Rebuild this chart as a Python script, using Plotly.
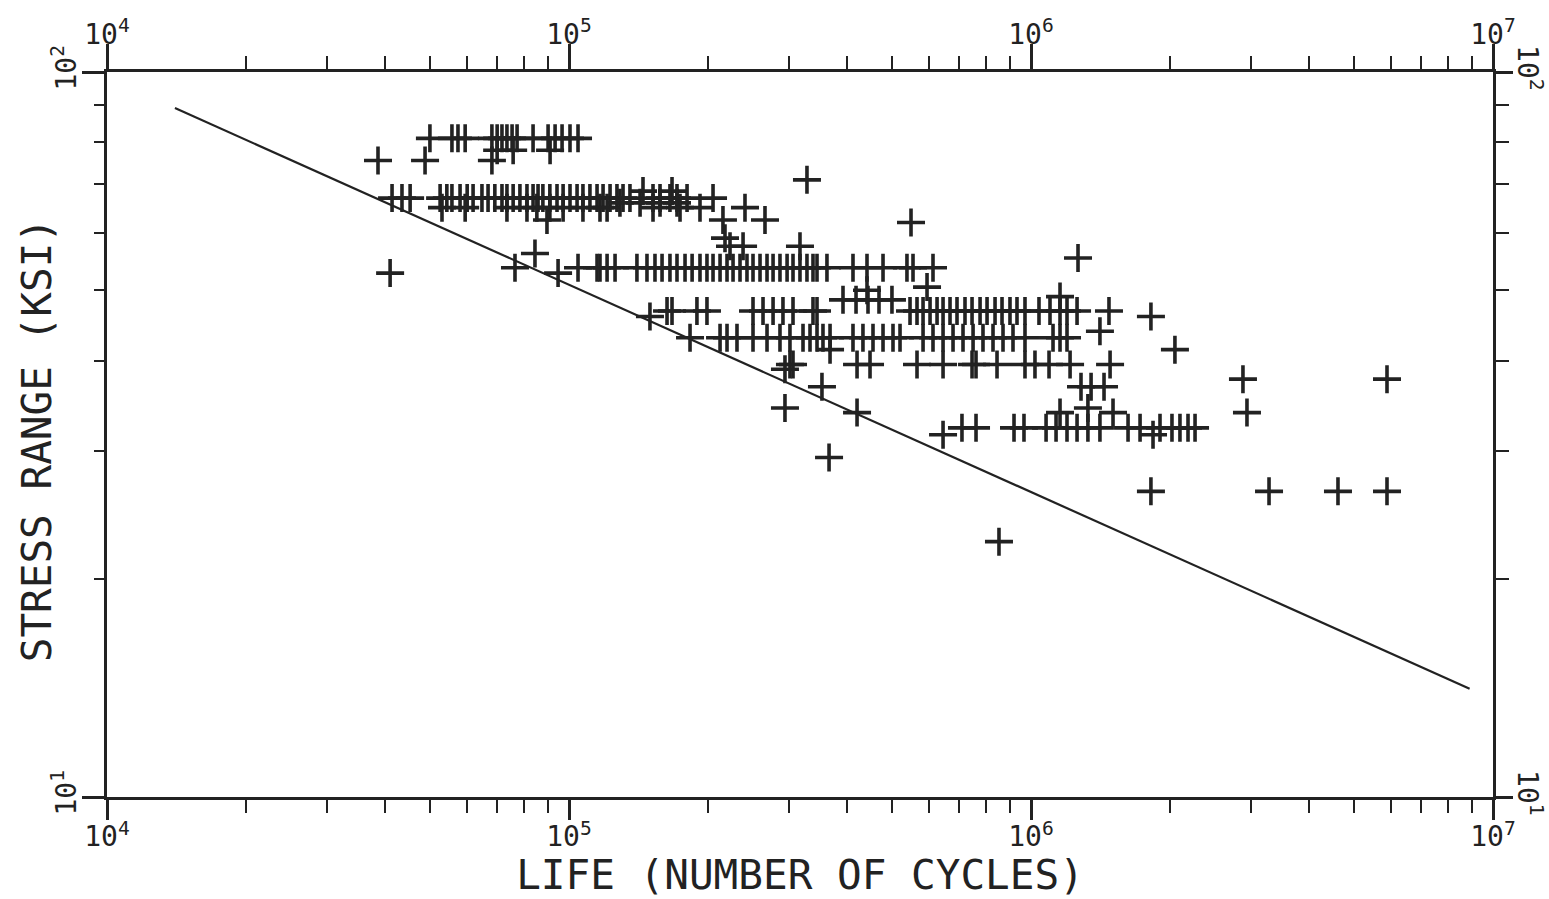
import plotly.graph_objects as go

# ---- Data: fatigue life N (cycles) at each stress range S (ksi) ----
s_81 = [50000, 55800, 57500, 59600, 68100, 69900, 71600, 73400, 75300, 77200,
        83600, 90100, 93300, 96600, 100500, 104600]
s_78 = [69900, 75700, 91000]
s_75_5 = [38600, 48800, 68100]
s_71 = [327400]
s_68_5 = [144600, 167100]
s_67 = [41400, 43500, 45300, 52600, 54400, 55800, 58100, 60200, 62000, 64800,
        66800, 69100, 71600, 73400, 75700, 78300, 81100, 83600, 85700, 87800,
        90900, 94200, 97100, 100500, 104100, 107200, 111000, 115000, 118500,
        122700, 127000, 130900, 135500, 152000, 157400, 165400, 171300, 180100,
        205000]
s_66 = [128900, 142500, 157400, 171300]
s_65 = [53100, 59600, 73400, 81100, 85200, 90900, 97100, 107200, 116700, 120900,
        152000, 173900, 192100, 240400]
s_62_5 = [89600, 215400, 265600]
s_62 = [549900]
s_59 = [217600]
s_57_5 = [223100, 238100, 316200]
s_56_2 = [84400]
s_55_4 = [1264000]
s_53_7 = [76400, 104600, 115000, 116700, 120900, 125800, 140300, 147500, 153500,
          159000, 165400, 171300, 178300, 184700, 192100, 198900, 205000, 212300,
          219800, 226500, 234500, 242800, 250200, 259100, 268300, 276500, 286200,
          296500, 305400, 316200, 327400, 337400, 344200, 361700, 411800, 441600,
          478300, 538900, 555400, 613600]
s_52_8 = [41000, 94700]
s_50_5 = [595600]
s_50 = [441600]
s_49 = [1155600]
s_48_5 = [391800, 418100, 443800, 468800, 500100]
s_46_8 = [163000, 167100, 189200, 198900, 250200, 263000, 276500, 290500, 305400,
          337400, 344200, 547200, 566600, 583900, 604600, 626100, 645100, 667900,
          691600, 719700, 745400, 775800, 803300, 835900, 865500, 900600, 932600,
          970500, 1040600, 1099300, 1155600, 1196600, 1258000, 1475000]
s_46 = [149700, 1818000]
s_43_9 = [1410000]
s_43 = [182800, 212300, 219800, 231000, 250200, 268300, 286200, 300800, 321000,
        332400, 344200, 354600, 367300, 411800, 432800, 455000, 478300, 502700,
        520600, 583900, 613600, 645100, 678000, 712600, 749200, 787200, 827500,
        869800, 914200, 970500, 1116000, 1155600, 1196600]
s_41_4 = [367300, 2049000]
s_39_5 = [300800, 305400, 420200, 448300, 566600, 645100, 745400, 760300, 844200,
          970500, 1020000, 1094000, 1215000, 1483000]
s_38_9 = [293400]
s_37_7 = [2876000, 5896000]
s_36_8 = [352800, 1283000, 1349000, 1439000]
s_34_4 = [293400, 1328000]
s_33_9 = [420200, 1155600, 1505000, 2934000]
s_32_3 = [708900, 760300, 918800, 965600, 1078000, 1133000, 1196600, 1258000,
          1328000, 1410000, 1622000, 1722000, 1902000, 2019000, 2101000, 2187000,
          2265000]
s_31_6 = [645100, 1837000]
s_29_4 = [365500]
s_26_4 = [1818000, 3275000, 4618000, 5896000]
s_22_5 = [852500]

stress_groups = [
    (81.0, s_81), (78.0, s_78), (75.5, s_75_5), (71.0, s_71), (68.5, s_68_5),
    (67.0, s_67), (66.0, s_66), (65.0, s_65), (62.5, s_62_5), (62.0, s_62),
    (59.0, s_59), (57.5, s_57_5), (56.2, s_56_2), (55.4, s_55_4), (53.7, s_53_7),
    (52.8, s_52_8), (50.5, s_50_5), (50.0, s_50), (49.0, s_49), (48.5, s_48_5),
    (46.8, s_46_8), (46.0, s_46), (43.9, s_43_9), (43.0, s_43), (41.4, s_41_4),
    (39.5, s_39_5), (38.9, s_38_9), (37.7, s_37_7), (36.8, s_36_8),
    (34.4, s_34_4), (33.9, s_33_9), (32.3, s_32_3), (31.6, s_31_6),
    (29.4, s_29_4), (26.4, s_26_4), (22.5, s_22_5),
]

# design S-N line
line_N = [14030, 8.9e6]
line_S = [89.2, 14.1]

# axis ticks
x_major = [1e4, 1e5, 1e6, 1e7]
x_major_text = ["10<sup>4</sup>", "10<sup>5</sup>", "10<sup>6</sup>", "10<sup>7</sup>"]
x_minor = [m * d for d in (1e4, 1e5, 1e6) for m in range(2, 10)]
y_major = [10, 100]
y_major_text = ["10<sup>1</sup>", "10<sup>2</sup>"]
y_minor = [20, 30, 40, 50, 60, 70, 80, 90]

x_title = "LIFE (NUMBER OF CYCLES)"
y_title = "STRESS RANGE (KSI)"

pts_N, pts_S = [], []
for s, ns in stress_groups:
    for n in ns:
        pts_N.append(n)
        pts_S.append(s)

INK = "#222222"
FONT = "DejaVu Sans Mono"

fig = go.Figure()
fig.add_trace(go.Scatter(
    x=line_N, y=line_S, mode="lines",
    line=dict(color=INK, width=2.2), showlegend=False, hoverinfo="skip"))
fig.add_trace(go.Scatter(
    x=pts_N, y=pts_S, mode="markers",
    marker=dict(symbol="cross-thin", size=20, color=INK,
                line=dict(width=3.6, color=INK)),
    showlegend=False))
fig.add_trace(go.Scatter(x=[], y=[], xaxis="x2", yaxis="y2", showlegend=False))

common = dict(type="log", showline=True, linewidth=2.5, linecolor=INK,
              showgrid=False, zeroline=False, ticks="outside", tickwidth=2.5,
              tickcolor=INK, tickmode="array", automargin=False,
              tickfont=dict(family=FONT, size=28, color=INK))

fig.update_layout(
    width=1549, height=899, autosize=False,
    paper_bgcolor="white", plot_bgcolor="white",
    margin=dict(l=107, r=56, t=72, b=102, autoexpand=False),
    xaxis=dict(common, range=[4, 7], side="bottom", ticklen=20,
               ticklabelstandoff=-7,
               tickvals=x_major, ticktext=x_major_text,
               minor=dict(tickmode="array", tickvals=x_minor, ticks="outside",
                          ticklen=13, tickwidth=2, tickcolor=INK),
               title=dict(text=x_title, standoff=10,
                          font=dict(family=FONT, size=41, color=INK))),
    xaxis2=dict(common, range=[4, 7], side="top", overlaying="x", ticklen=25,
                ticklabelstandoff=-11,
                tickvals=x_major, ticktext=x_major_text,
                minor=dict(tickmode="array", tickvals=x_minor, ticks="outside",
                           ticklen=13, tickwidth=2, tickcolor=INK)),
    yaxis=dict(common, range=[1, 2], side="left", ticklen=22, tickangle=-90,
               ticklabelstandoff=-5,
               tickvals=y_major, ticktext=y_major_text,
               minor=dict(tickmode="array", tickvals=y_minor, ticks="outside",
                          ticklen=10, tickwidth=2, tickcolor=INK)),
    yaxis2=dict(common, range=[1, 2], side="right", overlaying="y", ticklen=17,
                ticklabelstandoff=-6,
                tickangle=90, tickvals=y_major, ticktext=y_major_text,
                minor=dict(tickmode="array", tickvals=y_minor, ticks="outside",
                           ticklen=13, tickwidth=2, tickcolor=INK)),
    annotations=[dict(text=y_title, textangle=-90, showarrow=False,
                      xref="paper", yref="paper", x=-0.0505, y=0.492,
                      xanchor="center", yanchor="middle",
                      font=dict(family=FONT, size=41, color=INK))],
)

fig.write_html("out.html", config={"displayModeBar": False},
               post_script="document.body.style.margin='0';")
